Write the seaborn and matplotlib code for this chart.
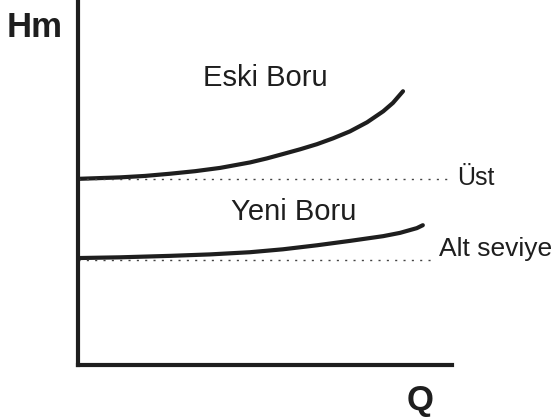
import numpy as np
import pandas as pd
import matplotlib
matplotlib.use("Agg")
import matplotlib.pyplot as plt
import seaborn as sns

# Veriler (resimden okunan yaklasik degerler)
q_eski = [0.0, 1.12, 1.79, 2.46, 3.13, 3.80, 4.60, 5.05, 5.48, 5.94, 6.39,
          6.82, 7.27, 7.73, 8.16, 8.42, 8.69]
h_eski = [5.10, 5.14, 5.18, 5.24, 5.31, 5.40, 5.55, 5.66, 5.78, 5.91, 6.05,
          6.21, 6.40, 6.65, 6.95, 7.18, 7.50]

q_yeni = [0.0, 1.12, 2.46, 3.53, 4.60, 5.48, 6.39, 7.27, 8.16, 8.61, 9.06, 9.22]
h_yeni = [2.93, 2.95, 2.99, 3.03, 3.09, 3.17, 3.28, 3.40, 3.53, 3.62, 3.75, 3.83]

ust_seviye = 5.10
alt_seviye = 2.88
ust_bitis = 9.87
alt_bitis = 9.55

etiketler = ["Eski Boru", "Yeni Boru", "Üst", "Alt seviye"]

df = pd.concat([
    pd.DataFrame({"Q": q_eski, "Hm": h_eski, "Boru": "Eski Boru"}),
    pd.DataFrame({"Q": q_yeni, "Hm": h_yeni, "Boru": "Yeni Boru"}),
])

sns.set_style("white")
plt.rcParams["font.family"] = ["Liberation Sans", "DejaVu Sans"]

fig = plt.figure(figsize=(5.53, 4.2), dpi=100)
ax = fig.add_axes([78 / 553, 55 / 420, 374 / 553, 365 / 420])

sns.lineplot(data=df, x="Q", y="Hm", hue="Boru", units="Boru", estimator=None,
             palette={"Eski Boru": "#1e1e1e", "Yeni Boru": "#1e1e1e"},
             linewidth=3, legend=False, ax=ax)
for ln in ax.lines:
    ln.set_solid_capstyle("round")
    ln.set_solid_joinstyle("round")

# Seviye cizgileri (noktali)
ax.plot([0, ust_bitis], [ust_seviye, ust_seviye], color="#444444",
        linewidth=1, linestyle=(0, (1.5, 4.5)), clip_on=False)
ax.plot([0, alt_bitis], [alt_seviye, alt_seviye], color="#444444",
        linewidth=1, linestyle=(0, (1.5, 4.5)), clip_on=False)

ax.set_xlim(0, 10)
ax.set_ylim(0, 10)

# Eksenler
sns.despine(ax=ax)
for s in ["left", "bottom"]:
    ax.spines[s].set_linewidth(3)
    ax.spines[s].set_color("#1e1e1e")
ax.set_xticks([])
ax.set_yticks([])
ax.set_xlabel("")
ax.set_ylabel("")

# Yazilar
ax.text(5.0, 7.86, etiketler[0], fontsize=21, ha="center", va="center", color="#1e1e1e")
ax.text(5.78, 4.19, etiketler[1], fontsize=21, ha="center", va="center", color="#1e1e1e")
ax.text(10.13, 5.12, etiketler[2], fontsize=18, ha="left", va="center", color="#1e1e1e")
ax.text(9.65, 3.17, etiketler[3], fontsize=19, ha="left", va="center", color="#1e1e1e")
ax.text(-1.9, 9.26, "Hm", fontsize=25, fontweight="bold", ha="left", va="center", color="#1e1e1e")
ax.text(9.14, -0.96, "Q", fontsize=25, fontweight="bold", ha="center", va="center", color="#1e1e1e")

fig.savefig("out.png", dpi=100)
